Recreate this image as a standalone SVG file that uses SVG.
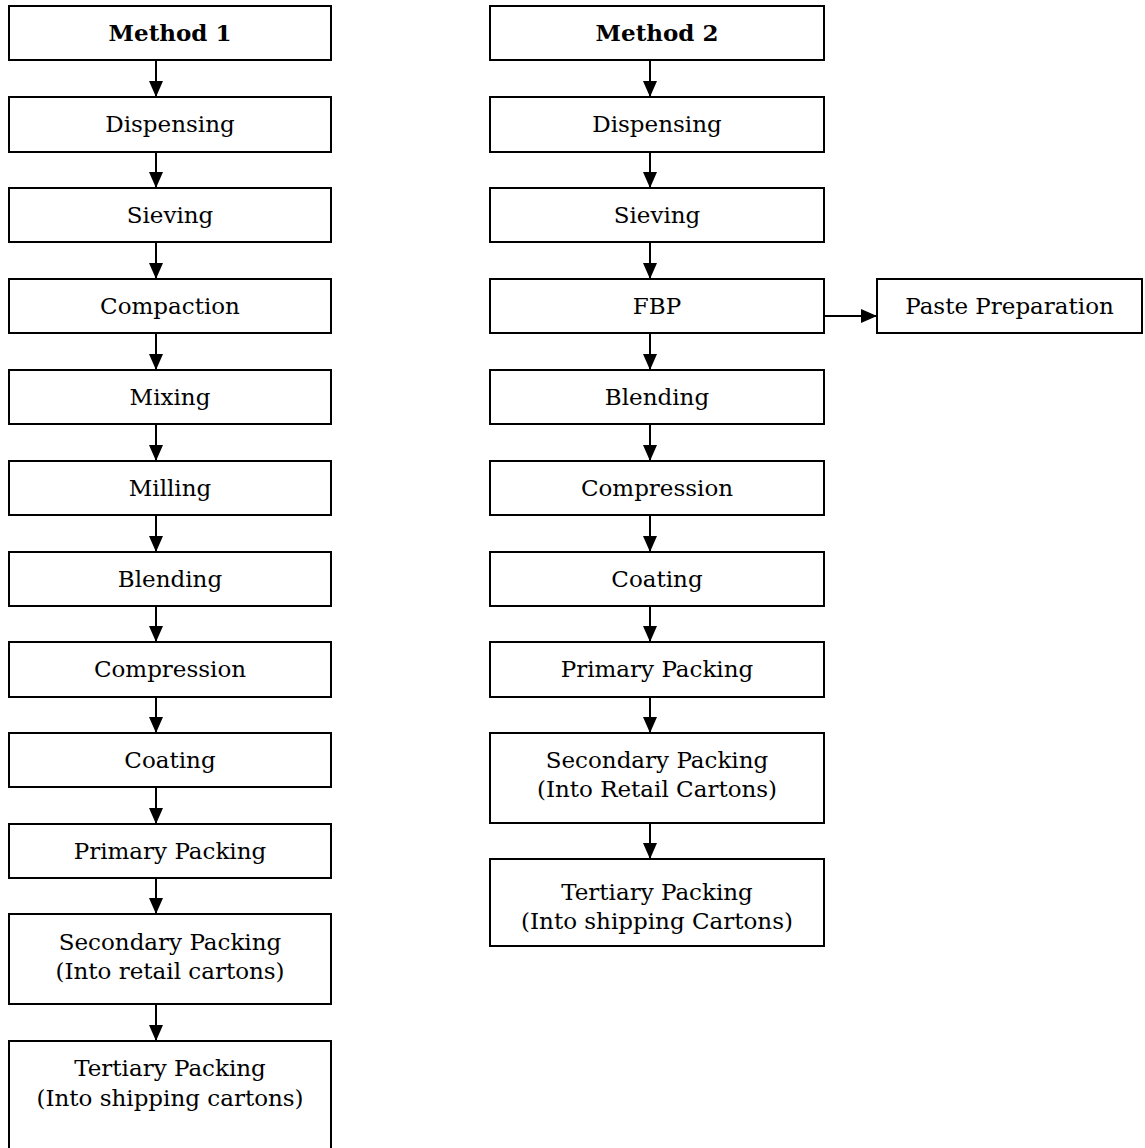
<svg xmlns="http://www.w3.org/2000/svg" width="1145" height="1148" viewBox="0 0 1145 1148">
<style>
.b{fill:#fff;stroke:#000;stroke-width:2}
.t{font-family:"DejaVu Serif","Liberation Serif",serif;font-size:23px;fill:#000;text-anchor:middle}
.bold{font-weight:bold}
.c{stroke:#000;stroke-width:2;fill:none;marker-end:url(#ah)}
</style>
<defs>
<marker id="ah" markerUnits="userSpaceOnUse" markerWidth="16" markerHeight="16" viewBox="0 0 16 16" refX="16" refY="8" orient="auto">
<path d="M0,1 L16,8 L0,15 Z" fill="#000"/>
</marker>
</defs>
<rect width="1145" height="1148" fill="#fff"/>
<g id="connectors">
<line class="c" x1="156" y1="60" x2="156" y2="97"/>
<line class="c" x1="156" y1="152" x2="156" y2="188"/>
<line class="c" x1="156" y1="242" x2="156" y2="279"/>
<line class="c" x1="156" y1="333" x2="156" y2="370"/>
<line class="c" x1="156" y1="424" x2="156" y2="461"/>
<line class="c" x1="156" y1="515" x2="156" y2="552"/>
<line class="c" x1="156" y1="606" x2="156" y2="642"/>
<line class="c" x1="156" y1="697" x2="156" y2="733"/>
<line class="c" x1="156" y1="787" x2="156" y2="824"/>
<line class="c" x1="156" y1="878" x2="156" y2="914"/>
<line class="c" x1="156" y1="1004" x2="156" y2="1041"/>
<line class="c" x1="650" y1="60" x2="650" y2="97"/>
<line class="c" x1="650" y1="152" x2="650" y2="188"/>
<line class="c" x1="650" y1="242" x2="650" y2="279"/>
<line class="c" x1="650" y1="333" x2="650" y2="370"/>
<line class="c" x1="650" y1="424" x2="650" y2="461"/>
<line class="c" x1="650" y1="515" x2="650" y2="552"/>
<line class="c" x1="650" y1="606" x2="650" y2="642"/>
<line class="c" x1="650" y1="697" x2="650" y2="733"/>
<line class="c" x1="650" y1="823" x2="650" y2="859"/>
<line class="c" x1="824" y1="316" x2="877" y2="316"/>
</g>
<g id="m1"><rect class="b" x="9" y="6" width="322" height="54"/><text class="t bold" x="170" y="41">Method 1</text></g>
<g id="l-dispensing"><rect class="b" x="9" y="97" width="322" height="55"/><text class="t" x="170" y="132">Dispensing</text></g>
<g id="l-sieving"><rect class="b" x="9" y="188" width="322" height="54"/><text class="t" x="170" y="223">Sieving</text></g>
<g id="l-compaction"><rect class="b" x="9" y="279" width="322" height="54"/><text class="t" x="170" y="314">Compaction</text></g>
<g id="l-mixing"><rect class="b" x="9" y="370" width="322" height="54"/><text class="t" x="170" y="405">Mixing</text></g>
<g id="l-milling"><rect class="b" x="9" y="461" width="322" height="54"/><text class="t" x="170" y="496">Milling</text></g>
<g id="l-blending"><rect class="b" x="9" y="552" width="322" height="54"/><text class="t" x="170" y="587">Blending</text></g>
<g id="l-compression"><rect class="b" x="9" y="642" width="322" height="55"/><text class="t" x="170" y="677">Compression</text></g>
<g id="l-coating"><rect class="b" x="9" y="733" width="322" height="54"/><text class="t" x="170" y="768">Coating</text></g>
<g id="l-primary"><rect class="b" x="9" y="824" width="322" height="54"/><text class="t" x="170" y="859">Primary Packing</text></g>
<g id="l-secondary"><rect class="b" x="9" y="914" width="322" height="90"/><text class="t" x="170" y="950">Secondary Packing</text><text class="t" x="170" y="979">(Into retail cartons)</text></g>
<g id="l-tertiary"><rect class="b" x="9" y="1041" width="322" height="120"/><text class="t" x="170" y="1076">Tertiary Packing</text><text class="t" x="170" y="1106">(Into shipping cartons)</text></g>
<g id="m2"><rect class="b" x="490" y="6" width="334" height="54"/><text class="t bold" x="657" y="41">Method 2</text></g>
<g id="r-dispensing"><rect class="b" x="490" y="97" width="334" height="55"/><text class="t" x="657" y="132">Dispensing</text></g>
<g id="r-sieving"><rect class="b" x="490" y="188" width="334" height="54"/><text class="t" x="657" y="223">Sieving</text></g>
<g id="r-fbp"><rect class="b" x="490" y="279" width="334" height="54"/><text class="t" x="657" y="314">FBP</text></g>
<g id="paste"><rect class="b" x="877" y="279" width="265" height="54"/><text class="t" x="1009.5" y="314">Paste Preparation</text></g>
<g id="r-blending"><rect class="b" x="490" y="370" width="334" height="54"/><text class="t" x="657" y="405">Blending</text></g>
<g id="r-compression"><rect class="b" x="490" y="461" width="334" height="54"/><text class="t" x="657" y="496">Compression</text></g>
<g id="r-coating"><rect class="b" x="490" y="552" width="334" height="54"/><text class="t" x="657" y="587">Coating</text></g>
<g id="r-primary"><rect class="b" x="490" y="642" width="334" height="55"/><text class="t" x="657" y="677">Primary Packing</text></g>
<g id="r-secondary"><rect class="b" x="490" y="733" width="334" height="90"/><text class="t" x="657" y="768">Secondary Packing</text><text class="t" x="657" y="797">(Into Retail Cartons)</text></g>
<g id="r-tertiary"><rect class="b" x="490" y="859" width="334" height="87"/><text class="t" x="657" y="900">Tertiary Packing</text><text class="t" x="657" y="929">(Into shipping Cartons)</text></g>
</svg>
